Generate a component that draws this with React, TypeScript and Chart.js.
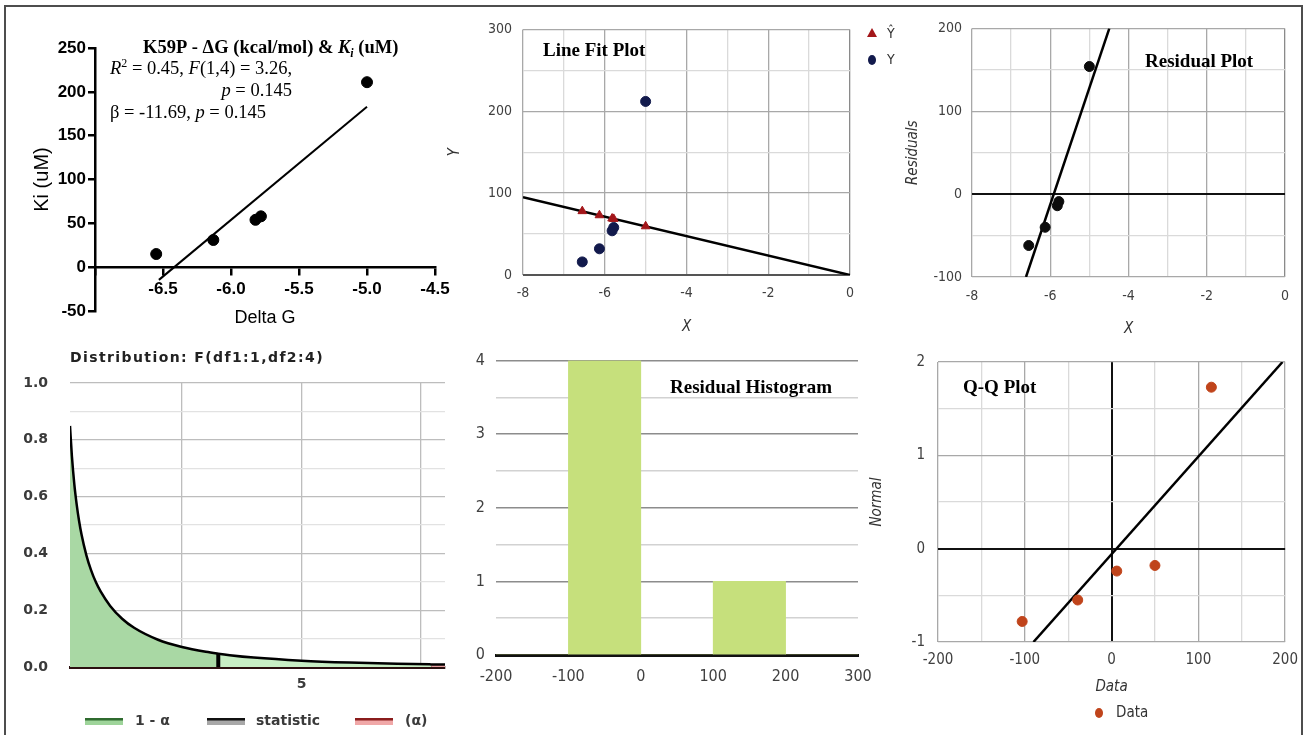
import React, { useEffect, useRef } from 'react';
import { Chart, registerables } from 'chart.js';

Chart.register(...registerables);

// ---------------- data ----------------
// Panel 1 : K59P  Delta G vs Ki
const deltaG = [-6.55, -6.13, -5.82, -5.78, -5.0];
const kiValues = [15, 31, 54, 58, 211];
const kiFitX = [-6.53, -5.0];
const kiFitY = [-14.5, 183];

// Panel 2 : Line fit plot
const lineFitX = [-8, 0];
const lineFitY = [95, 0];
const predictedY = [78, 73, 69, 68.5, 59.5];
const observedY = [16, 32, 54, 58, 212];

// Panel 3 : Residual plot
const residuals = [-62, -40, -14, -9, 154];
const residFitX = [-6.62, -4.49];
const residFitY = [-100, 200];

// Panel 4 : F(1,4) distribution curve
const distX = [0.16, 0.2, 0.25, 0.3, 0.35, 0.4, 0.5, 0.6, 0.7, 0.8, 1.0, 1.25, 1.5, 2.0, 2.5, 3.0, 3.26, 3.5, 4.0, 5.0, 6.0, 7.0, 7.71, 8.0];
const distY = [0.849, 0.742, 0.644, 0.572, 0.514, 0.467, 0.395, 0.341, 0.299, 0.266, 0.215, 0.17, 0.138, 0.096, 0.0705, 0.0534, 0.0468, 0.0416, 0.0331, 0.0221, 0.0155, 0.0113, 0.0092, 0.0085];
const fStatistic = 3.26;
const fCritical = 7.71;
const distLegend = ['1 - α', 'statistic', '(α)'];

// Panel 5 : Residual histogram
const histBinCenters = [-150, -50, 50, 150, 250];
const histCounts = [0, 4, 0, 1, 0];

// Panel 6 : Q-Q plot
const qqData = [-103, -39, 6, 50, 115];
const qqNormal = [-0.78, -0.55, -0.24, -0.18, 1.73];
const qqLineX = [-90, 197];
const qqLineY = [-1, 2];

// ---------------- style helpers ----------------
const SANS = '"Liberation Sans", Arial, sans-serif';
const NARROW = '"Liberation Sans Narrow", "DejaVu Sans Condensed", "Liberation Sans", Arial, sans-serif';
const SERIF = '"Liberation Serif", "Times New Roman", serif';
const DEJAVU = '"DejaVu Sans", Verdana, sans-serif';

Chart.defaults.font.family = SANS;

const pts = (xs: number[], ys: number[]) => xs.map((x, i) => ({ x, y: ys[i] }));

const base: any = {
  responsive: false,
  animation: false,
  devicePixelRatio: 1,
  events: [],
  plugins: { legend: { display: false }, tooltip: { enabled: false }, title: { display: false } },
};

const gridColor = (isMajor: (v: number) => boolean, major: string, minor: string, zero?: string) => (ctx: any) => {
  const v = ctx.tick ? ctx.tick.value : NaN;
  if (zero && Math.abs(v) < 1e-9) return zero;
  return isMajor(v) ? major : minor;
};
const gridWidth = (w: number, zeroW: number) => (ctx: any) => {
  const v = ctx.tick ? ctx.tick.value : NaN;
  return Math.abs(v) < 1e-9 ? zeroW : w;
};

type Seg = { t: string; it?: boolean; b?: boolean; sup?: boolean; sub?: boolean };
function drawRich(ctx: CanvasRenderingContext2D, segs: Seg[], x: number, y: number, size: number, family: string, align: 'left' | 'right' = 'left') {
  const fontFor = (s: Seg) => `${s.it ? 'italic ' : ''}${s.b ? 'bold ' : ''}${s.sup || s.sub ? Math.round(size * 0.65) : size}px ${family}`;
  let total = 0;
  for (const s of segs) {
    ctx.font = fontFor(s);
    total += ctx.measureText(s.t).width;
  }
  let cx = align === 'right' ? x - total : x;
  ctx.textAlign = 'left';
  ctx.textBaseline = 'alphabetic';
  for (const s of segs) {
    ctx.font = fontFor(s);
    const dy = s.sup ? -size * 0.38 : s.sub ? size * 0.22 : 0;
    ctx.fillText(s.t, cx, y + dy);
    cx += ctx.measureText(s.t).width;
  }
}

function drawLabel(ctx: CanvasRenderingContext2D, text: string, x: number, y: number, font: string, color = '#000', align: CanvasTextAlign = 'left') {
  ctx.save();
  ctx.font = font;
  ctx.fillStyle = color;
  ctx.textAlign = align;
  ctx.textBaseline = 'middle';
  ctx.fillText(text, x, y);
  ctx.restore();
}

function textPlugin(id: string, draw: (ctx: CanvasRenderingContext2D, chart: any) => void) {
  return {
    id,
    afterDraw(chart: any) {
      const ctx = chart.ctx as CanvasRenderingContext2D;
      ctx.save();
      draw(ctx, chart);
      ctx.restore();
    },
  };
}

// ---------------- panels ----------------
const P1 = { left: 10, top: 20, width: 450, height: 315 };
const panel1 = (): any => ({
  type: 'scatter',
  data: {
    datasets: [
      { data: pts(deltaG, kiValues), pointRadius: 5.5, backgroundColor: '#000', borderColor: '#000' },
      { data: pts(kiFitX, kiFitY), showLine: true, borderColor: '#000', borderWidth: 2, pointRadius: 0 },
    ],
  },
  options: {
    ...base,
    layout: { padding: { top: 28, right: 25, bottom: 24, left: 0 } },
    scales: {
      x: {
        type: 'linear',
        position: { y: 0 },
        min: -7,
        max: -4.5,
        ticks: {
          stepSize: 0.5,
          autoSkip: false,
          maxRotation: 0,
          callback: (v: number) => (Math.abs(v + 7) < 1e-9 ? '' : v.toFixed(1)),
          font: { family: SANS, size: 17, weight: 'bold' },
          color: '#000',
          padding: 5,
        },
        grid: { drawOnChartArea: false, drawTicks: true, tickLength: 7, color: '#000', lineWidth: 2.5 },
        border: { display: true, color: '#000', width: 2.5 },
      },
      y: {
        type: 'linear',
        position: 'left',
        min: -50,
        max: 250,
        ticks: { stepSize: 50, autoSkip: false, font: { family: SANS, size: 17, weight: 'bold' }, color: '#000', padding: 2 },
        grid: { drawOnChartArea: false, drawTicks: true, tickLength: 7, color: '#000', lineWidth: 2.5 },
        border: { display: true, color: '#000', width: 2.5 },
        title: { display: true, text: 'Ki (uM)', font: { family: SANS, size: 20 }, color: '#000', padding: { top: 20, bottom: 0 } },
        afterFit: (s: any) => {
          s.width = 85;
        },
      },
    },
  },
  plugins: [
    textPlugin('p1text', (ctx) => {
      const ox = P1.left;
      const oy = P1.top;
      ctx.fillStyle = '#000';
      drawRich(
        ctx,
        [
          { t: 'K59P - ΔG (kcal/mol) & ', b: true },
          { t: 'K', b: true, it: true },
          { t: 'i', b: true, it: true, sub: true },
          { t: ' (uM)', b: true },
        ],
        143 - ox,
        53 - oy,
        18.5,
        SERIF
      );
      drawRich(
        ctx,
        [{ t: 'R', it: true }, { t: '2', sup: true }, { t: ' = 0.45, ' }, { t: 'F', it: true }, { t: '(1,4) = 3.26,' }],
        110 - ox,
        74 - oy,
        18.5,
        SERIF
      );
      drawRich(ctx, [{ t: 'p', it: true }, { t: ' = 0.145' }], 292 - ox, 96 - oy, 18.5, SERIF, 'right');
      drawRich(ctx, [{ t: 'β = -11.69, ' }, { t: 'p', it: true }, { t: ' = 0.145' }], 110 - ox, 118 - oy, 18.5, SERIF);
      drawLabel(ctx, 'Delta G', 265 - ox, 318 - oy, `18px ${SANS}`, '#000', 'center');
    }),
  ],
});

const P2 = { left: 440, top: 10, width: 460, height: 330 };
const panel2 = (): any => ({
  type: 'scatter',
  data: {
    datasets: [
      { data: pts(deltaG, predictedY), pointStyle: 'triangle', pointRadius: 5, backgroundColor: '#a3161a', borderColor: '#a3161a' },
      { data: pts(deltaG, observedY), pointRadius: 5, backgroundColor: '#121a4c', borderColor: '#121a4c' },
      { data: pts(lineFitX, lineFitY), showLine: true, borderColor: '#000', borderWidth: 2.5, pointRadius: 0 },
    ],
  },
  options: {
    ...base,
    layout: { padding: { top: 17, right: 50, bottom: 0, left: 0 } },
    scales: {
      x: {
        type: 'linear',
        min: -8,
        max: 0,
        ticks: {
          stepSize: 1,
          autoSkip: false,
          maxRotation: 0,
          callback: (v: number) => (v % 2 === 0 ? String(v) : ''),
          font: { family: NARROW, size: 14 },
          color: '#404040',
          padding: 10,
        },
        grid: { drawTicks: false, color: gridColor((v) => v % 2 === 0, '#a8a8a8', '#dadada', '#8a8a8a'), lineWidth: 1.3 },
        border: { display: false },
        title: { display: true, text: 'X', font: { family: NARROW, size: 15, style: 'italic' }, color: '#333', padding: { top: 0, bottom: 4 } },
        afterFit: (s: any) => {
          s.height = 65;
        },
      },
      y: {
        type: 'linear',
        min: 0,
        max: 300,
        ticks: {
          stepSize: 50,
          autoSkip: false,
          callback: (v: number) => (v % 100 === 0 ? String(v) : ''),
          font: { family: NARROW, size: 14 },
          color: '#404040',
          padding: 11,
        },
        grid: { drawTicks: false, color: gridColor((v) => v % 100 === 0, '#a8a8a8', '#dadada', '#555'), lineWidth: gridWidth(1.3, 2) },
        border: { display: false },
        title: { display: true, text: 'Y', font: { family: NARROW, size: 15, style: 'italic' }, color: '#333', padding: { top: 6, bottom: 0 } },
        afterFit: (s: any) => {
          s.width = 83;
        },
      },
    },
  },
  plugins: [
    textPlugin('p2text', (ctx) => {
      const ox = P2.left;
      const oy = P2.top;
      drawLabel(ctx, 'Line Fit Plot', 543 - ox, 51 - oy, `bold 19px ${SERIF}`);
      // legend
      ctx.fillStyle = '#a3161a';
      ctx.beginPath();
      ctx.moveTo(872 - ox, 28 - oy);
      ctx.lineTo(877 - ox, 37 - oy);
      ctx.lineTo(867 - ox, 37 - oy);
      ctx.closePath();
      ctx.fill();
      drawLabel(ctx, 'Ŷ', 887 - ox, 34 - oy, `14px ${NARROW}`, '#333');
      ctx.fillStyle = '#121a4c';
      ctx.beginPath();
      ctx.ellipse(872 - ox, 60 - oy, 4, 5, 0, 0, Math.PI * 2);
      ctx.fill();
      drawLabel(ctx, 'Y', 887 - ox, 60 - oy, `14px ${NARROW}`, '#333');
    }),
  ],
});

const P3 = { left: 900, top: 10, width: 400, height: 330 };
const panel3 = (): any => ({
  type: 'scatter',
  data: {
    datasets: [
      { data: pts(deltaG, residuals), pointRadius: 5, backgroundColor: '#0c0c0c', borderColor: '#0c0c0c' },
      { data: pts(residFitX, residFitY), showLine: true, borderColor: '#000', borderWidth: 2.5, pointRadius: 0 },
    ],
  },
  options: {
    ...base,
    layout: { padding: { top: 17, right: 12, bottom: 0, left: 0 } },
    scales: {
      x: {
        type: 'linear',
        min: -8,
        max: 0,
        ticks: {
          stepSize: 1,
          autoSkip: false,
          maxRotation: 0,
          callback: (v: number) => (v % 2 === 0 ? String(v) : ''),
          font: { family: NARROW, size: 14 },
          color: '#404040',
          padding: 11,
        },
        grid: { drawTicks: false, color: gridColor((v) => v % 2 === 0, '#a8a8a8', '#dadada', '#8a8a8a'), lineWidth: 1.3 },
        border: { display: false },
        title: { display: true, text: 'X', font: { family: NARROW, size: 15, style: 'italic' }, color: '#333', padding: { top: 0, bottom: 2 } },
        afterFit: (s: any) => {
          s.height = 63;
        },
      },
      y: {
        type: 'linear',
        min: -100,
        max: 200,
        ticks: {
          stepSize: 50,
          autoSkip: false,
          callback: (v: number) => (v % 100 === 0 ? String(v) : ''),
          font: { family: NARROW, size: 14 },
          color: '#404040',
          padding: 10,
        },
        grid: { drawTicks: false, color: gridColor((v) => v % 100 === 0, '#a8a8a8', '#dadada', '#111'), lineWidth: gridWidth(1.3, 2) },
        border: { display: false },
        title: { display: true, text: 'Residuals', font: { family: NARROW, size: 15, style: 'italic' }, color: '#333', padding: { top: 4, bottom: 0 } },
        afterFit: (s: any) => {
          s.width = 72;
        },
      },
    },
  },
  plugins: [
    textPlugin('p3text', (ctx) => {
      drawLabel(ctx, 'Residual Plot', 1145 - P3.left, 62 - P3.top, `bold 19px ${SERIF}`);
    }),
  ],
});

const P4 = { left: 10, top: 340, width: 450, height: 395 };
const statHeight = distY[distX.indexOf(fStatistic)];
const rangePts = (lo: number, hi: number) => distX.map((x, i) => ({ x, y: distY[i] })).filter((p) => p.x >= lo - 1e-9 && p.x <= hi + 1e-9);
const panel4 = (): any => ({
  type: 'scatter',
  data: {
    datasets: [
      { data: pts([fStatistic, fStatistic], [0, statHeight]), showLine: true, borderColor: '#000', borderWidth: 4, pointRadius: 0 },
      { data: pts(distX, distY), showLine: true, borderColor: '#000', borderWidth: 2.5, pointRadius: 0, cubicInterpolationMode: 'monotone' },
      { data: rangePts(distX[0], fStatistic), showLine: true, borderWidth: 0, pointRadius: 0, fill: 'origin', backgroundColor: '#a9d8a4', cubicInterpolationMode: 'monotone' },
      { data: rangePts(fStatistic, fCritical), showLine: true, borderWidth: 0, pointRadius: 0, fill: 'origin', backgroundColor: '#c8eec4', cubicInterpolationMode: 'monotone' },
      { data: rangePts(fCritical, distX[distX.length - 1]), showLine: true, borderWidth: 0, pointRadius: 0, fill: 'origin', backgroundColor: '#e9a3a3', cubicInterpolationMode: 'monotone' },
    ],
  },
  options: {
    ...base,
    layout: { padding: { top: 43, right: 15, bottom: 0, left: 0 } },
    scales: {
      x: {
        type: 'linear',
        min: distX[0],
        max: distX[distX.length - 1],
        ticks: {
          stepSize: 2.5,
          includeBounds: false,
          autoSkip: false,
          maxRotation: 0,
          callback: (v: number) => (v === 5 ? '5' : ''),
          font: { family: DEJAVU, size: 14, weight: 'bold' },
          color: '#3a3a3a',
          padding: 9,
        },
        grid: { drawTicks: false, color: '#bdbdbd', lineWidth: 1.3 },
        border: { display: true, color: '#2b1010', width: 3 },
        afterFit: (s: any) => {
          s.height = 68;
        },
      },
      y: {
        type: 'linear',
        min: 0,
        max: 1,
        ticks: {
          stepSize: 0.1,
          autoSkip: false,
          callback: (v: number) => (Math.round(v * 10) % 2 === 0 ? v.toFixed(1) : ''),
          font: { family: DEJAVU, size: 14, weight: 'bold' },
          color: '#3a3a3a',
          padding: 22,
        },
        grid: { drawTicks: false, color: gridColor((v) => Math.round(v * 10) % 2 === 0, '#bdbdbd', '#e2e2e2'), lineWidth: 1.3 },
        border: { display: false },
        afterFit: (s: any) => {
          s.width = 60;
        },
      },
    },
  },
  plugins: [
    textPlugin('p4text', (ctx) => {
      const ox = P4.left;
      const oy = P4.top;
      ctx.save();
      (ctx as any).letterSpacing = '1.4px';
      drawLabel(ctx, 'Distribution: F(df1:1,df2:4)', 70 - ox, 358 - oy, `bold 14px ${DEJAVU}`, '#222');
      ctx.restore();
      const items = [
        { x: 85, tx: 135, dark: '#2f6b2f', light: '#9ed49a' },
        { x: 207, tx: 256, dark: '#111', light: '#a8a8a8' },
        { x: 355, tx: 405, dark: '#8a1c1c', light: '#f0a8a8' },
      ];
      items.forEach((it, i) => {
        ctx.fillStyle = it.light;
        ctx.fillRect(it.x - ox, 719 - oy, 38, 6);
        ctx.fillStyle = it.dark;
        ctx.fillRect(it.x - ox, 718 - oy, 38, 2.5);
        drawLabel(ctx, distLegend[i], it.tx - ox, 721 - oy, `bold 14px ${DEJAVU}`, '#3a3a3a');
      });
    }),
  ],
});

const P5 = { left: 440, top: 340, width: 450, height: 395 };
const panel5 = (): any => ({
  type: 'bar',
  data: {
    datasets: [
      {
        data: pts(histBinCenters, histCounts),
        backgroundColor: '#c6e07c',
        borderWidth: 0,
        barPercentage: 1,
        categoryPercentage: 1,
      },
    ],
  },
  options: {
    ...base,
    layout: { padding: { top: 19, right: 32, bottom: 0, left: 0 } },
    scales: {
      x: {
        type: 'linear',
        offset: false,
        min: -200,
        max: 300,
        ticks: { stepSize: 100, autoSkip: false, maxRotation: 0, font: { family: NARROW, size: 16 }, color: '#404040', padding: 12 },
        grid: { drawOnChartArea: false, drawTicks: false, offset: false },
        border: { display: true, color: '#111', width: 3 },
        afterFit: (s: any) => {
          s.height = 80;
        },
      },
      y: {
        type: 'linear',
        min: 0,
        max: 4,
        ticks: {
          stepSize: 0.5,
          autoSkip: false,
          callback: (v: number) => (Number.isInteger(v) ? String(v) : ''),
          font: { family: NARROW, size: 16 },
          color: '#404040',
          padding: 11,
        },
        grid: { drawTicks: false, color: gridColor((v) => Number.isInteger(v), '#8c8c8c', '#d2d2d2'), lineWidth: 1.5 },
        border: { display: false },
        afterFit: (s: any) => {
          s.width = 56;
        },
      },
    },
  },
  plugins: [
    textPlugin('p5text', (ctx) => {
      drawLabel(ctx, 'Residual Histogram', 670 - P5.left, 388 - P5.top, `bold 19px ${SERIF}`);
    }),
  ],
});

const P6 = { left: 860, top: 340, width: 447, height: 395 };
const panel6 = (): any => ({
  type: 'scatter',
  data: {
    datasets: [
      { data: pts(qqData, qqNormal), pointRadius: 5, backgroundColor: '#c0441b', borderColor: '#c0441b' },
      { data: pts(qqLineX, qqLineY), showLine: true, borderColor: '#000', borderWidth: 2.5, pointRadius: 0 },
    ],
  },
  options: {
    ...base,
    layout: { padding: { top: 14, right: 18, bottom: 0, left: 0 } },
    scales: {
      x: {
        type: 'linear',
        min: -200,
        max: 200,
        ticks: {
          stepSize: 50,
          autoSkip: false,
          maxRotation: 0,
          callback: (v: number) => (v % 100 === 0 ? String(v) : ''),
          font: { family: NARROW, size: 15 },
          color: '#404040',
          padding: 9,
        },
        grid: { drawTicks: false, color: gridColor((v) => v % 100 === 0, '#a8a8a8', '#dadada', '#111'), lineWidth: gridWidth(1.3, 2) },
        border: { display: false },
        title: { display: true, text: 'Data', font: { family: NARROW, size: 15, style: 'italic' }, color: '#333', padding: { top: 0, bottom: 39 } },
        afterFit: (s: any) => {
          s.height = 93;
        },
      },
      y: {
        type: 'linear',
        min: -1,
        max: 2,
        ticks: {
          stepSize: 0.5,
          autoSkip: false,
          callback: (v: number) => (Number.isInteger(v) ? String(v) : ''),
          font: { family: NARROW, size: 15 },
          color: '#404040',
          padding: 13,
        },
        grid: { drawTicks: false, color: gridColor((v) => Number.isInteger(v), '#a8a8a8', '#dadada', '#111'), lineWidth: gridWidth(1.3, 2) },
        border: { display: false },
        title: { display: true, text: 'Normal', font: { family: NARROW, size: 15, style: 'italic' }, color: '#333', padding: { top: 8, bottom: 0 } },
        afterFit: (s: any) => {
          s.width = 78;
        },
      },
    },
  },
  plugins: [
    textPlugin('p6text', (ctx) => {
      const ox = P6.left;
      const oy = P6.top;
      drawLabel(ctx, 'Q-Q Plot', 963 - ox, 388 - oy, `bold 19px ${SERIF}`);
      ctx.fillStyle = '#c0441b';
      ctx.beginPath();
      ctx.ellipse(1099 - ox, 713 - oy, 4, 5, 0, 0, Math.PI * 2);
      ctx.fill();
      drawLabel(ctx, 'Data', 1116 - ox, 713 - oy, `15px ${NARROW}`, '#333');
    }),
  ],
});

function ChartPanel({ box, make }: { box: { left: number; top: number; width: number; height: number }; make: () => any }) {
  const ref = useRef<HTMLCanvasElement | null>(null);
  useEffect(() => {
    if (!ref.current) return;
    const chart = new Chart(ref.current, make());
    return () => chart.destroy();
  }, []);
  return (
    <canvas
      ref={ref}
      width={box.width}
      height={box.height}
      style={{ position: 'absolute', left: box.left, top: box.top, width: box.width, height: box.height }}
    />
  );
}

export default function App() {
  return (
    <div style={{ position: 'fixed', left: 0, top: 0, width: 1307, height: 735, background: '#fff', overflow: 'hidden' }}>
      <div
        style={{
          position: 'absolute',
          left: 4,
          top: 5,
          width: 1295,
          height: 760,
          border: '2px solid #4d4d4d',
          boxSizing: 'content-box',
        }}
      />
      <ChartPanel box={P1} make={panel1} />
      <ChartPanel box={P2} make={panel2} />
      <ChartPanel box={P3} make={panel3} />
      <ChartPanel box={P4} make={panel4} />
      <ChartPanel box={P5} make={panel5} />
      <ChartPanel box={P6} make={panel6} />
    </div>
  );
}
